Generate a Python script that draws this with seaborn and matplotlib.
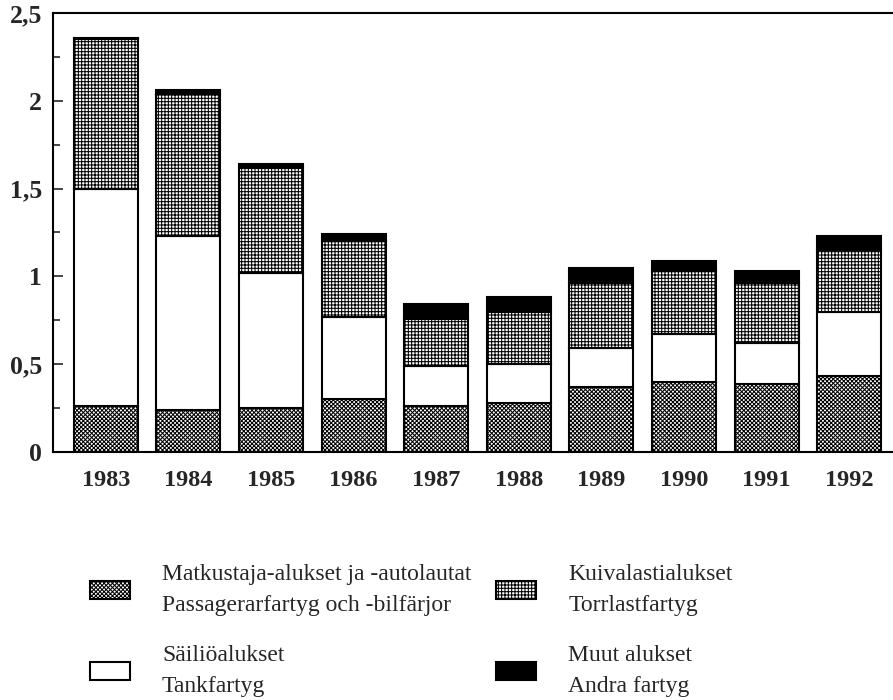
import matplotlib
matplotlib.use("Agg")
import matplotlib.pyplot as plt
import seaborn as sns
import numpy as np
import pandas as pd
from matplotlib.ticker import MultipleLocator, FixedLocator
from matplotlib.transforms import ScaledTranslation

years = ["1983", "1984", "1985", "1986", "1987", "1988", "1989", "1990", "1991", "1992"]
matkustaja = [0.26, 0.24, 0.25, 0.30, 0.26, 0.28, 0.37, 0.40, 0.39, 0.43]
sailio = [1.24, 0.99, 0.77, 0.47, 0.23, 0.22, 0.22, 0.27, 0.23, 0.37]
kuivalasti = [0.85, 0.81, 0.60, 0.43, 0.27, 0.30, 0.37, 0.36, 0.34, 0.35]
muut = [0.01, 0.02, 0.02, 0.04, 0.08, 0.08, 0.09, 0.06, 0.07, 0.08]

labels = [
    "Matkustaja-alukset ja -autolautat\nPassagerarfartyg och -bilfärjor",
    "Säiliöalukset\nTankfartyg",
    "Kuivalastialukset\nTorrlastfartyg",
    "Muut alukset\nAndra fartyg",
]
ytick_vals = [0, 0.5, 1, 1.5, 2, 2.5]
ytick_labels = ["0", "0,5", "1", "1,5", "2", "2,5"]

sns.set_style("ticks")
plt.rcParams["font.family"] = ["Liberation Serif", "DejaVu Serif"]
plt.rcParams["hatch.linewidth"] = 0.75

fig = plt.figure(figsize=(8.93, 7.0), dpi=100)
ax = fig.add_axes([53 / 893, 1 - 452 / 700, 1 - 53 / 893, (452 - 13) / 700])

df = pd.DataFrame({"year": years, "m": matkustaja, "s": sailio, "k": kuivalasti, "o": muut})
b1 = np.array(matkustaja)
b2 = b1 + np.array(sailio)
b3 = b2 + np.array(kuivalasti)

layers = [
    ("m", None, dict(color="white", hatch="xxxxxxxx")),
    ("s", b1, dict(color="white", hatch=None)),
    ("k", b2, dict(color="white", hatch="+++++")),
    ("o", b3, dict(color="black", hatch=None)),
]
handles = []
for col, bottom, style in layers:
    kw = dict(edgecolor="black", linewidth=1.5, width=0.775)
    if bottom is not None:
        kw["bottom"] = bottom
    sns.barplot(data=df, x="year", y=col, ax=ax, color=style["color"],
                saturation=1, hatch=style["hatch"], **kw)
    handles.append(ax.containers[-1].patches[0])

ax.set_xlim(-0.64, 9.53)
ax.set_ylim(0, 2.5)
ax.set_xlabel("")
ax.set_ylabel("")
ax.yaxis.set_major_locator(FixedLocator(ytick_vals))
ax.set_yticklabels(ytick_labels)
ax.yaxis.set_minor_locator(MultipleLocator(0.25))
for lab in ax.get_xticklabels():
    lab.set_fontweight("bold")
    lab.set_fontsize(17.5)
for lab in ax.get_yticklabels():
    lab.set_fontweight("bold")
    lab.set_fontsize(18.5)
    lab.set_transform(lab.get_transform() + ScaledTranslation(0, -4 / 72, fig.dpi_scale_trans))
ax.tick_params(axis="y", which="major", direction="in", length=7, width=1.2, pad=8)
ax.tick_params(axis="y", which="minor", direction="in", length=5, width=1.2)
ax.tick_params(axis="x", which="major", direction="in", length=5, width=1.0, pad=13)
for sp in ["left", "bottom", "top"]:
    ax.spines[sp].set_linewidth(1.5)
    ax.spines[sp].set_color("black")
ax.spines["right"].set_visible(False)

leg = fig.legend(handles, labels, ncol=2, loc="upper left",
                 bbox_to_anchor=(90 / 893, 1 - 564 / 700), frameon=False,
                 fontsize=17, handlelength=1.7, handleheight=0.8,
                 handletextpad=1.35, columnspacing=1.05, labelspacing=1.25,
                 borderpad=0, borderaxespad=0)
for t in leg.get_texts():
    t.set_linespacing(1.6)

fig.savefig("out.png", dpi=100)
